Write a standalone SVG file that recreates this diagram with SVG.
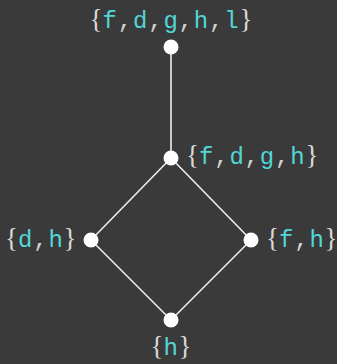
<svg xmlns="http://www.w3.org/2000/svg" width="337" height="364" viewBox="0 0 337 364">
<style>
.lbl{font-family:"Liberation Mono","Courier New",Courier,monospace;font-size:24px;fill:#d0d0d0;letter-spacing:0.8px}
.b{font-family:"Liberation Serif","Times New Roman",serif;font-size:27px;fill:#d8d8d8;letter-spacing:0}
.v{fill:#52d6d6}
.node{fill:#ffffff}
.edge{stroke:#eeeeee;stroke-width:1.6;fill:none}
</style>
<rect width="337" height="364" fill="#3a3a3a"/>
<g id="connectors">
<line class="edge" x1="171" y1="47" x2="171" y2="158"/>
<line class="edge" x1="171" y1="158" x2="91" y2="240"/>
<line class="edge" x1="171" y1="158" x2="251" y2="240"/>
<line class="edge" x1="91" y1="240" x2="171" y2="320"/>
<line class="edge" x1="251" y1="240" x2="171" y2="320"/>
</g>
<g id="n_fdghl">
<circle class="node" cx="171" cy="47" r="7.5"/>
<text class="lbl" x="171" y="28" text-anchor="middle"><tspan class="b">{</tspan><tspan class="v">f</tspan>,<tspan class="v">d</tspan>,<tspan class="v">g</tspan>,<tspan class="v">h</tspan>,<tspan class="v">l</tspan><tspan class="b">}</tspan></text>
</g>
<g id="n_fdgh">
<circle class="node" cx="171" cy="158" r="7.5"/>
<text class="lbl" x="186" y="164"><tspan class="b">{</tspan><tspan class="v">f</tspan>,<tspan class="v">d</tspan>,<tspan class="v">g</tspan>,<tspan class="v">h</tspan><tspan class="b">}</tspan></text>
</g>
<g id="n_dh">
<circle class="node" cx="91" cy="240" r="7.5"/>
<text class="lbl" x="5" y="247"><tspan class="b">{</tspan><tspan class="v">d</tspan>,<tspan class="v">h</tspan><tspan class="b">}</tspan></text>
</g>
<g id="n_fh">
<circle class="node" cx="251" cy="240" r="7.5"/>
<text class="lbl" x="266" y="247"><tspan class="b">{</tspan><tspan class="v">f</tspan>,<tspan class="v">h</tspan><tspan class="b">}</tspan></text>
</g>
<g id="n_h">
<circle class="node" cx="171" cy="320" r="7.5"/>
<text class="lbl" x="171" y="355" text-anchor="middle"><tspan class="b">{</tspan><tspan class="v">h</tspan><tspan class="b">}</tspan></text>
</g>
</svg>
